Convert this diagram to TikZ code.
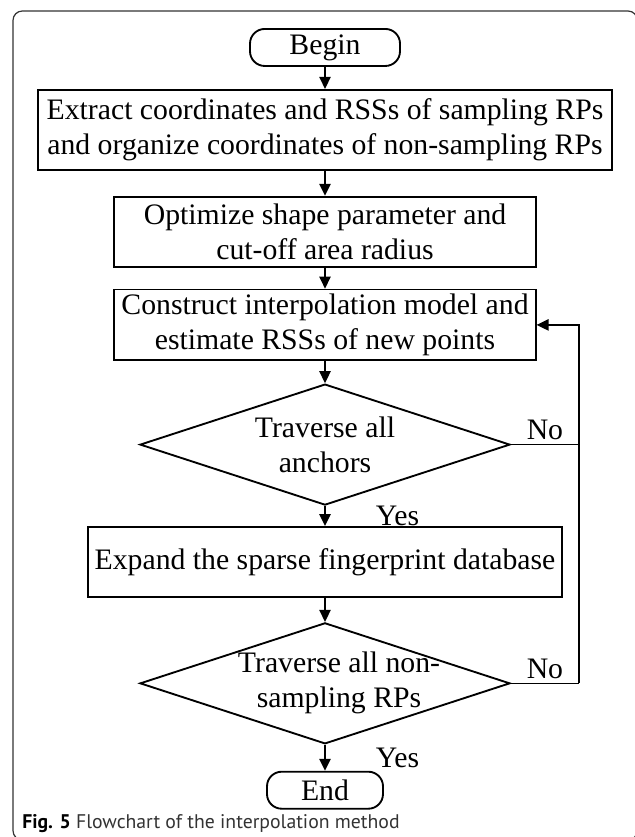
\documentclass[tikz,border=0pt]{standalone}
\usepackage{fontspec}
\setmainfont{Liberation Serif}
\newfontfamily\capfont{PT Sans}
\usetikzlibrary{positioning}
\usetikzlibrary{arrows.meta}
\usetikzlibrary{shapes.geometric}

\begin{document}
\begin{tikzpicture}[
    node distance=16.5pt,
    every node/.style={font=\fontsize{22.3}{26.3}\selectfont},
    process/.style={rectangle, draw, line width=1.4pt, minimum height=52.5pt, align=center, inner sep=2pt},
    terminal/.style={rectangle, draw, line width=1.4pt, rounded corners=11pt, minimum height=27.75pt, inner sep=2pt},
    decision/.style={diamond, draw, line width=1.4pt, aspect=3.06, minimum width=277.5pt, minimum height=90.75pt, align=center, inner sep=-6pt},
    arrow/.style={-{Triangle[length=9pt, width=8.5pt]}, line width=1.2pt},
    line/.style={line width=1.2pt},
    lbl/.style={inner sep=3pt}
]

\useasboundingbox (0,0) rectangle (475.5pt,-627.75pt);

% Frame
\draw[line width=0.9pt, black!80, rounded corners=7pt] (9.75pt,-8.25pt) rectangle (478pt,-630pt);

% Begin
\node[terminal, minimum width=112.5pt] (begin) at (243.75pt,-35.6pt) {Begin};

% Steps
\node[process, minimum width=430.5pt, minimum height=60pt, below=16.5pt of begin] (extract) {Extract coordinates and RSSs of sampling RPs\\and organize coordinates of non-sampling RPs};
\node[process, minimum width=317pt, below=18.75pt of extract] (optimize) {Optimize shape parameter and\\cut-off area radius};
\node[process, minimum width=316pt, minimum height=53pt, below=15.75pt of optimize] (construct) {Construct interpolation model and\\estimate RSSs of new points};

% First check
\node[decision, below=16.5pt of construct] (anchors) {Traverse all\\anchors};

\node[process, minimum width=355.5pt, below=15pt of anchors] (expand) {Expand the sparse fingerprint database};

% Second check
\node[decision, below=18pt of expand] (nonsamp) {\hspace*{21pt}Traverse all non-\\\hspace*{21pt}sampling RPs};

% End
\node[terminal, minimum width=87pt, below=19.5pt of nonsamp] (end) {End};

% Arrows
\draw[arrow] (begin) -- (extract);
\draw[arrow] (extract) -- (optimize);
\draw[arrow] (optimize) -- (construct);
\draw[arrow] (construct) -- (anchors);
\draw[arrow] (anchors) -- node[lbl, right, xshift=34.5pt] {Yes} (expand);
\draw[arrow] (expand) -- (nonsamp);
\draw[arrow] (nonsamp) -- node[lbl, right, xshift=34.5pt] {Yes} (end);

% Loop back
\draw[line] (nonsamp.east) -- node[lbl, above] {No} ++(51pt,0) coordinate (loop);
\draw[arrow] (loop) |- (construct.east);
\draw[line] (anchors.east) -- node[lbl, above] {No} (anchors.east -| loop);

% Caption
\node[anchor=west, inner sep=0pt, text=black!80, font=\capfont\fontsize{14.8}{17}\selectfont] (caption) at (16.5pt,-618pt) {\textcolor{black}{\bfseries Fig. 5} Flowchart of the interpolation method};

\end{tikzpicture}
\end{document}
